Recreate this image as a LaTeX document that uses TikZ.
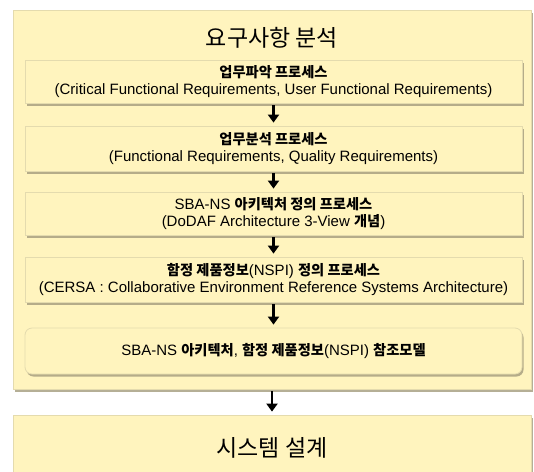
\documentclass[tikz,border=0pt]{standalone}
\usepackage{fontspec}
\setmainfont{Liberation Sans}
\newfontfamily\krfont{Noto Sans CJK KR}[Scale=0.95]
\newfontfamily\krtitle{Noto Sans CJK KR}
\newcommand\hg[1]{{\krtitle #1}}
\newcommand\hgb[1]{{\krfont\bfseries #1}}
\usetikzlibrary{shadows,arrows.meta}
\definecolor{paper}{HTML}{FFF4BE}
\definecolor{rim}{HTML}{E4DBAE}
\definecolor{shade}{HTML}{A39B7C}
\tikzset{
  panel/.style={draw=rim, line width=0.8pt, fill=paper,
    drop shadow={shadow xshift=1.5pt, shadow yshift=-2.5pt, fill=shade, opacity=0.8}},
  procbox/.style={panel, minimum width=497pt, inner sep=0pt, align=center,
    font=\fontsize{15pt}{16.5pt}\selectfont},
  flow/.style={line width=2.8pt, -{Triangle[width=11pt,length=8pt]}, shorten <=2pt, shorten >=3pt},
  bigtitle/.style={font=\fontsize{23pt}{26pt}\selectfont}
}
\begin{document}
\begin{tikzpicture}[x=1pt,y=-1pt]
\useasboundingbox (0,0) rectangle (534,471);
% outer requirements-analysis panel
\node[panel, minimum width=518pt, minimum height=379pt, inner sep=0pt] (outer) at (272,199.5) {};
\node[bigtitle] (title) at (272,38) {\hg{요구사항 분석}};
% process steps
\node[procbox, minimum height=43pt] (p1) at (273.5,81.5)
  {\hgb{업무파악 프로세스}\\(Critical Functional Requirements, User Functional Requirements)};
\node[procbox, minimum height=45pt] (p2) at (273.5,148.5)
  {\hgb{업무분석 프로세스}\\(Functional Requirements, Quality Requirements)};
\node[procbox, minimum height=43pt] (p3) at (273.5,213.5)
  {SBA-NS \hgb{아키텍처 정의 프로세스}\\(DoDAF Architecture 3-View \hgb{개념})};
\node[procbox, minimum height=45pt] (p4) at (273.5,279.5)
  {\hgb{함정 제품정보}(NSPI) \hgb{정의 프로세스}\\(CERSA : Collaborative Environment Reference Systems Architecture)};
\node[procbox, rounded corners=7pt, minimum height=46pt] (p5) at (273.5,351)
  {SBA-NS \hgb{아키텍처}, \hgb{함정 제품정보}(NSPI) \hgb{참조모델}};
% system design panel
\node[panel, minimum width=518pt, minimum height=60pt, inner sep=0pt] (design) at (272,445) {};
\node[bigtitle] (dtitle) at (272,448) {\hg{시스템 설계}};
% flow arrows
\draw[flow] (p1.south) -- (p2.north);
\draw[flow] (p2.south) -- (p3.north);
\draw[flow] (p3.south) -- (p4.north);
\draw[flow] (p4.south) -- (p5.north);
\draw[flow] (outer.south) -- (design.north);
\end{tikzpicture}
\end{document}
